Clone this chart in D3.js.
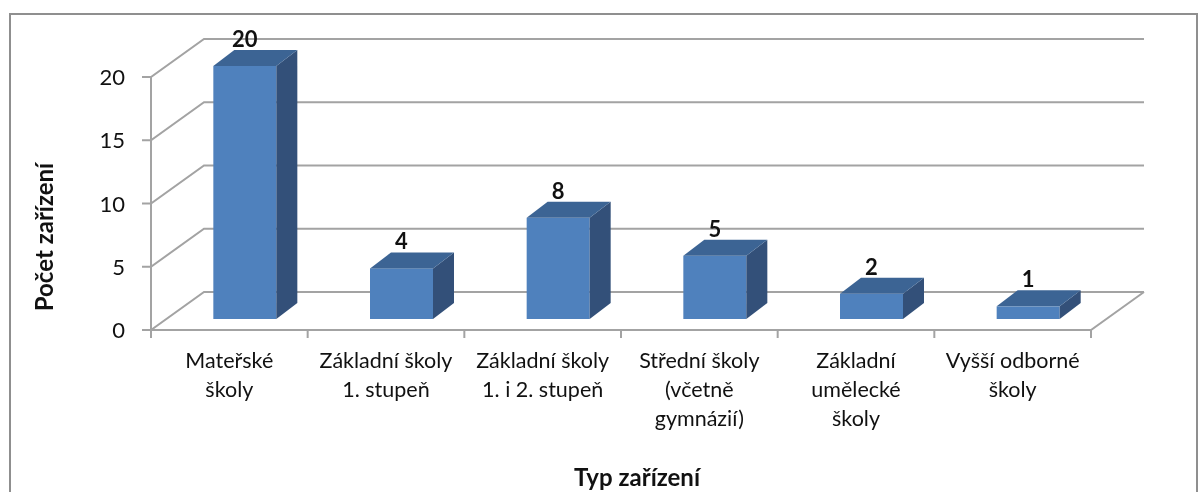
<!DOCTYPE html>
<html><head><meta charset="utf-8">
<script src="https://cdn.jsdelivr.net/npm/d3@7/dist/d3.min.js"></script>
<style>html,body{margin:0;padding:0;background:#fff;overflow:hidden}svg{display:block;filter:blur(0.45px)}text{font-family:Lato,Carlito,sans-serif;fill:#111}</style>
</head><body><svg id="c" width="1203" height="492"></svg>
<script>
const categories = ["Mateřské|školy","Základní školy|1. stupeň","Základní školy|1. i 2. stupeň","Střední školy|(včetně|gymnázií)","Základní|umělecké|školy","Vyšší odborné|školy"];
const values = [20,4,8,5,2,1];
const yTicks = [0,5,10,15,20];
const yTitle = "Počet zařízení";
const xTitle = "Typ zařízení";

const svg = d3.select("#c");
const grey = "#a3a3a3";
const x = d3.scaleBand().domain(categories).range([151,1091]);
const y = d3.scaleLinear().domain([0,20]).range([330,77]);
const floorDX = 53, floorDY = -38;
const barShiftX = 15.5, barShiftY = -11;
const barW = 63, barDX = 21, barDY = -16;

svg.append("path").attr("d","M10,500V14H1197V500").attr("fill","none").attr("stroke","#8f8f8f").attr("stroke-width",2);

const g = svg.append("g").attr("fill","none").attr("stroke",grey).attr("stroke-width",2);
yTicks.forEach(t=>{
  const py=y(t);
  g.append("path").attr("d",`M142,${py}H151L${151+floorDX},${py+floorDY}H${1091+floorDX}`);
});
g.append("path").attr("d",`M151,${y(20)}V${y(0)}H1091L${1091+floorDX},${y(0)+floorDY}`);
categories.forEach(c=>g.append("path").attr("d",`M${x(c)},330V338`));
g.append("path").attr("d","M1091,330V338");

const h0 = y(0);
values.forEach((v,i)=>{
  const c = categories[i];
  const l = x(c)+x.bandwidth()/2 + barShiftX - barW/2, r = l+barW;
  const b = h0+barShiftY, t = y(v)+barShiftY;
  svg.append("rect").attr("x",l).attr("y",t).attr("width",barW).attr("height",b-t).attr("fill","#4f81bd");
  svg.append("path").attr("d",`M${r},${t}l${barDX},${barDY}V${b+barDY}L${r},${b}Z`).attr("fill","#335079");
  svg.append("path").attr("d",`M${l},${t}l${barDX},${barDY}H${r+barDX}L${r},${t}Z`).attr("fill","#3c6494");
  svg.append("text").attr("x",(l+r)/2).attr("y",t-19).attr("text-anchor","middle")
    .attr("font-size",22).attr("font-weight",700).text(v);
});

yTicks.forEach(t=>svg.append("text").attr("x",125).attr("y",y(t)+8).attr("text-anchor","end").attr("font-size",22).text(t));

categories.forEach(c=>{
  c.split("|").forEach((s,j)=>svg.append("text").attr("x",x(c)+x.bandwidth()/2).attr("y",368+j*29)
    .attr("text-anchor","middle").attr("font-size",21.5).text(s));
});

svg.append("text").attr("transform","translate(53,237) rotate(-90)").attr("text-anchor","middle").attr("font-size",24).attr("font-weight",700).text(yTitle);
svg.append("text").attr("x",637).attr("y",486).attr("text-anchor","middle").attr("font-size",24).attr("font-weight",700).text(xTitle);
</script></body></html>
